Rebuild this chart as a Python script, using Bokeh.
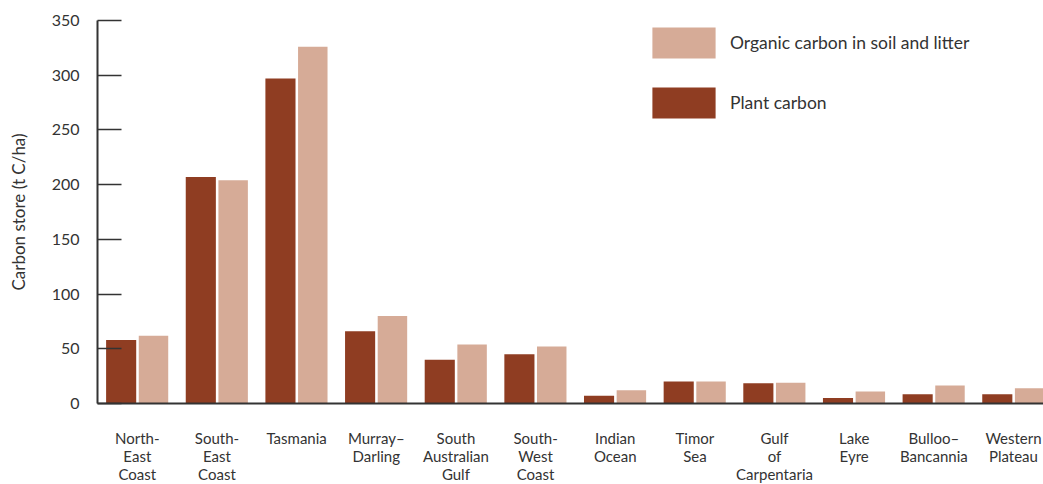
from bokeh.plotting import figure
from bokeh.models import ColumnDataSource, Range1d, FixedTicker, Legend, LegendItem
from bokeh.transform import dodge
from bokeh.embed import file_html
from bokeh.resources import INLINE

regions = ["North-\nEast\nCoast", "South-\nEast\nCoast", "Tasmania", "Murray\u2013\nDarling",
           "South\nAustralian\nGulf", "South-\nWest\nCoast", "Indian\nOcean", "Timor\nSea",
           "Gulf\nof\nCarpentaria", "Lake\nEyre", "Bulloo\u2013\nBancannia", "Western\nPlateau"]
plant_carbon = [58, 207, 297, 66, 40, 45, 7, 20, 18.5, 5, 8.5, 8.5]
soil_carbon = [62, 204, 326, 80, 54, 52, 12, 20, 19, 11, 16.5, 14]
y_ticks = [0, 50, 100, 150, 200, 250, 300, 350]

PLANT = "#8F3D22"
SOIL = "#D6AB97"
TEXT = "#333333"
FONT = "Lato"

pos = list(range(len(regions)))
src = ColumnDataSource(dict(pos=pos, plant=plant_carbon, soil=soil_carbon))

p = figure(frame_width=946, frame_height=383, output_backend="svg", toolbar_location=None,
           x_range=Range1d(-0.5, 11.377), y_range=Range1d(0, 350),
           min_border_left=97, min_border_right=0, min_border_top=20, min_border_bottom=78)
p.outline_line_color = None
p.xgrid.visible = False
p.ygrid.visible = False

r_plant = p.vbar(x=dodge("pos", -0.203, range=p.x_range), top="plant", width=0.378,
                 source=src, fill_color=PLANT, line_color=None)
r_soil = p.vbar(x=dodge("pos", 0.203, range=p.x_range), top="soil", width=0.370,
                source=src, fill_color=SOIL, line_color=None)

# y axis
ya = p.yaxis[0]
ya.ticker = FixedTicker(ticks=y_ticks)
ya.axis_line_color = TEXT
ya.axis_line_width = 2
ya.major_tick_line_color = TEXT
ya.major_tick_line_width = 1.5
ya.major_tick_in = 24
ya.major_tick_out = 0
ya.minor_tick_line_color = None
ya.major_label_standoff = 18
ya.major_label_text_font = FONT
ya.major_label_text_font_size = "16px"
ya.major_label_text_color = TEXT
ya.axis_label = "Carbon store (t C/ha)"
ya.axis_label_text_font = FONT
ya.axis_label_text_font_size = "17px"
ya.axis_label_text_font_style = "normal"
ya.axis_label_text_color = TEXT
ya.axis_label_standoff = 20

# x axis
xa = p.xaxis[0]
xa.ticker = FixedTicker(ticks=pos)
xa.major_label_overrides = {i: lab for i, lab in enumerate(regions)}
xa.axis_line_color = TEXT
xa.axis_line_width = 2
xa.major_tick_line_color = None
xa.minor_tick_line_color = None
xa.major_tick_in = 0
xa.major_tick_out = 0
xa.major_label_standoff = 25
xa.major_label_text_font = FONT
xa.major_label_text_font_size = "15px"
xa.major_label_text_color = TEXT
xa.major_label_text_line_height = 1.02

legend = Legend(items=[LegendItem(label="Organic carbon in soil and litter", renderers=[r_soil]),
                       LegendItem(label="Plant carbon", renderers=[r_plant])],
                location=(547, 281), glyph_width=79, glyph_height=39, label_height=39,
                spacing=21, label_standoff=7, padding=0, margin=0,
                border_line_color=None, background_fill_alpha=0,
                label_text_font=FONT, label_text_font_size="17.5px", label_text_color=TEXT)
p.add_layout(legend)

open("out.html", "w").write(file_html(p, INLINE))
